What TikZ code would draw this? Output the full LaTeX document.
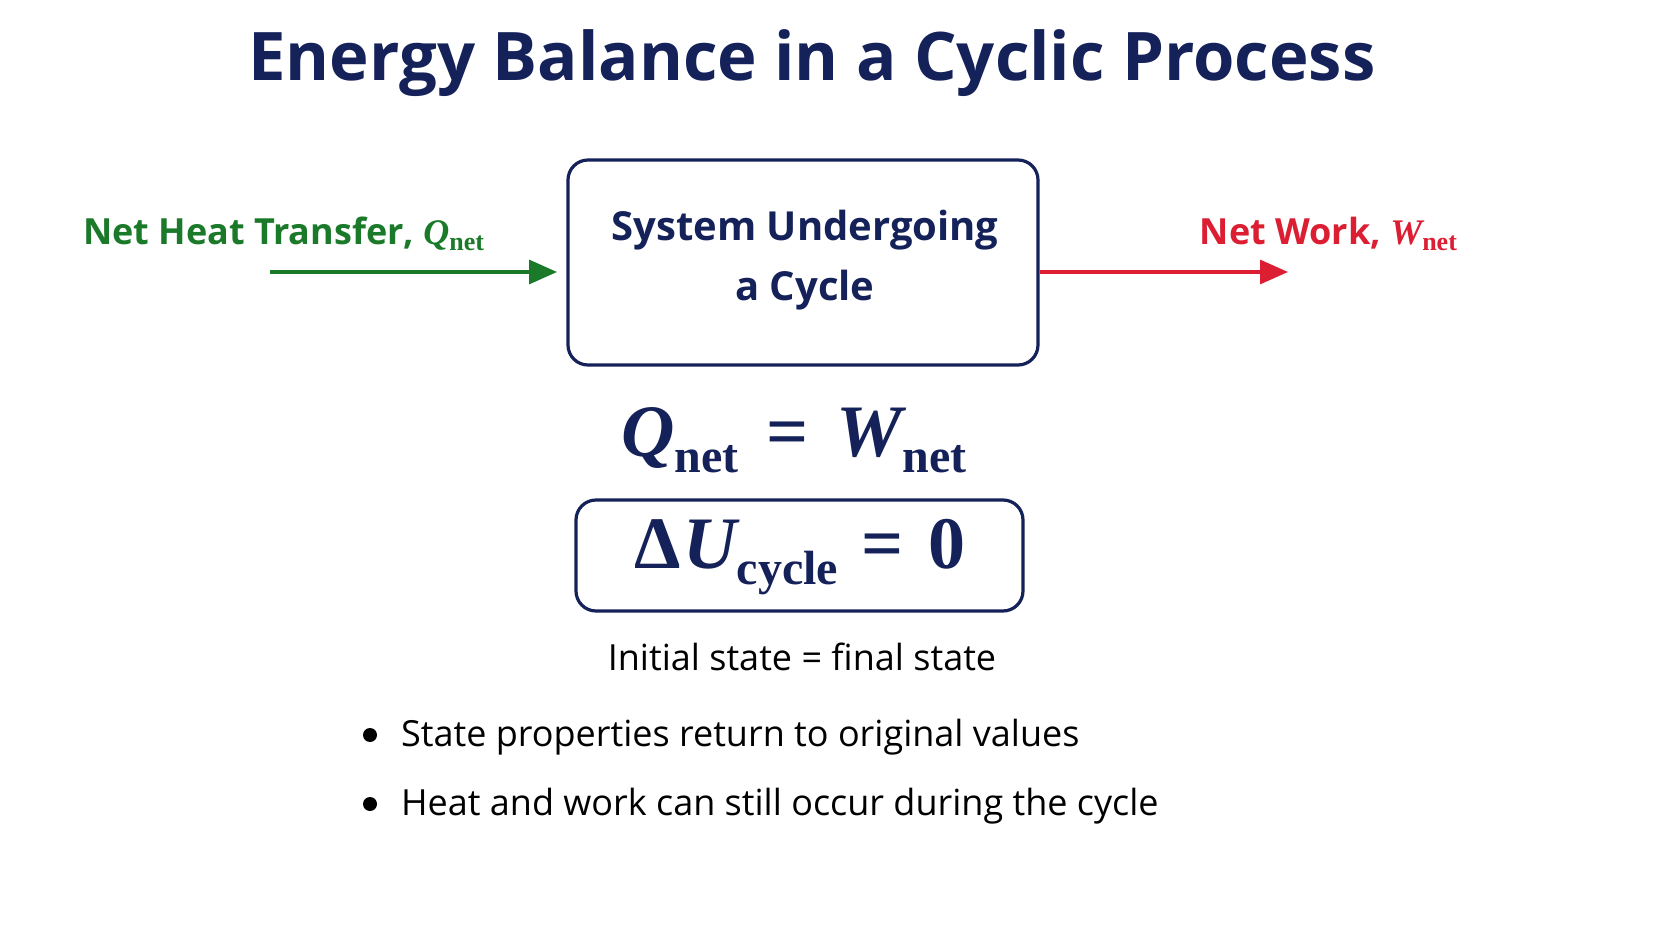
\documentclass[tikz,border=0pt]{standalone}
\usepackage{fontspec}
\setmainfont{Open Sans}
\newfontfamily\serifm{Liberation Serif}
\usetikzlibrary{arrows.meta}
\definecolor{navy}{HTML}{15225A}
\definecolor{gr}{HTML}{1A7A2A}
\definecolor{rd}{HTML}{DC1E32}
\begin{document}
\begin{tikzpicture}[x=0.5pt,y=-0.5pt,
  box/.style={draw=navy,line width=1.6pt,rounded corners=10pt},
  arr/.style={line width=1.6pt,-{Triangle[length=14pt,width=12pt]}}]
\useasboundingbox[fill=white] (0,0) rectangle (1672,941);
\node[text=navy,font=\fontsize{33.5}{40}\selectfont\bfseries] (title) at (812,63) {Energy Balance in a Cyclic Process};
\draw[box] (568,160) rectangle (1038,365);
\node[text=navy,font=\fontsize{20}{30}\selectfont\bfseries,align=center] (sys) at (805,260) {System Undergoing\\a Cycle};
\coordinate (sysL) at (557,272);
\coordinate (sysR) at (1040,272);
\coordinate (gs) at (270,272);
\coordinate (re) at (1288,272);
\draw[arr,gr] (gs) -- (sysL);
\draw[arr,rd] (sysR) -- (re);
\node[text=gr,font=\fontsize{18}{22}\selectfont\bfseries,anchor=west] (ql) at (76,234) {Net Heat Transfer, {\serifm\itshape Q}{\serifm\fontsize{13}{13}\selectfont\raisebox{-3pt}{net}}};
\node[text=rd,font=\fontsize{18}{22}\selectfont\bfseries,anchor=east] (wl) at (1464,234) {Net Work, {\serifm\itshape W}{\serifm\fontsize{13}{13}\selectfont\raisebox{-3pt}{net}}};
\node[text=navy,font=\serifm\bfseries\fontsize{37}{42}\selectfont] (eq) at (794,440) {{\itshape Q}{\fontsize{24}{24}\selectfont\raisebox{-8pt}{net}}\hspace{14pt}=\hspace{14pt}{\itshape W}{\fontsize{24}{24}\selectfont\raisebox{-8pt}{net}}};
\draw[box] (576,500) rectangle (1023,611);
\node[text=navy,font=\serifm\bfseries\fontsize{37}{42}\selectfont] (du) at (800,557) {Δ\kern1pt{\itshape U}{\fontsize{24}{24}\selectfont\raisebox{-8pt}{cycle}}\hspace{12pt}=\hspace{12pt}0};
\node[font=\fontsize{18}{22}\selectfont] (init) at (802,657) {Initial state = final state};
\node[circle,fill=black,inner sep=0pt,minimum size=7pt] (b1) at (370,735) {};
\node[circle,fill=black,inner sep=0pt,minimum size=7pt] (b2) at (370,804) {};
\node[anchor=west,font=\fontsize{18}{22}\selectfont] (t1) at (394,737) {State properties return to original values};
\node[anchor=west,font=\fontsize{18}{22}\selectfont] (t2) at (394,806) {Heat and work can still occur during the cycle};
\end{tikzpicture}
\end{document}
